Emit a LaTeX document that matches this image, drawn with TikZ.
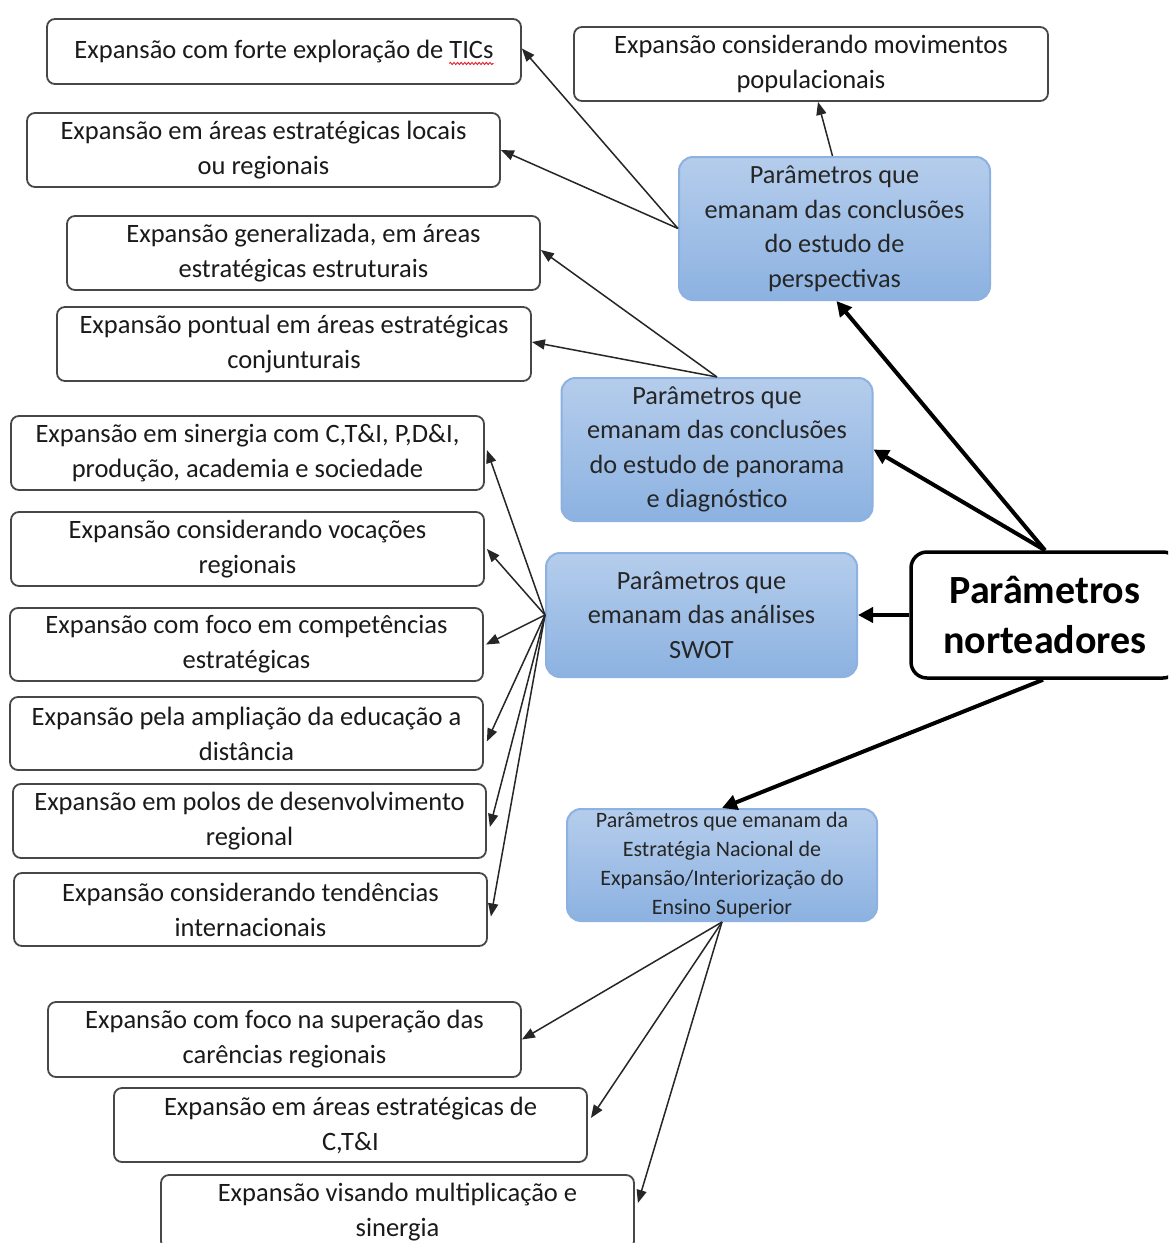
\documentclass[tikz,border=0pt]{standalone}
\usepackage{fontspec}
\setmainfont{Carlito}
\usetikzlibrary{arrows.meta,decorations.pathmorphing}

\definecolor{ink}{HTML}{1A1A1A}
\definecolor{edgegray}{HTML}{474747}
\definecolor{bluetop}{HTML}{B5CDEC}
\definecolor{bluebot}{HTML}{8CB2E1}
\definecolor{blueedge}{HTML}{8DB1E0}
\definecolor{spellred}{HTML}{E0202A}

\tikzset{
  xbox/.style={draw=edgegray, line width=1.8pt, rounded corners=8pt, fill=white,
    minimum width=473pt, minimum height=74pt, inner sep=0pt, align=center,
    text=ink, font=\fontsize{26.5}{35}\selectfont},
  pbox/.style={draw=blueedge, line width=2pt, rounded corners=14pt,
    top color=bluetop, bottom color=bluebot, minimum width=311pt, inner sep=0pt,
    align=center, text=black!85, font=\fontsize{26.3}{34.5}\selectfont},
  rootbox/.style={draw=black, line width=3.5pt, rounded corners=16pt, fill=white,
    minimum width=268pt, minimum height=126pt, inner sep=0pt, align=center,
    font=\fontsize{40}{50}\selectfont\bfseries},
  leaf/.style={draw=black!85, line width=1.5pt, -{Triangle[length=13pt,width=10pt]}},
  trunk/.style={draw=black, line width=4pt, -{Triangle[length=15pt,width=15pt]}},
}

\begin{document}
\begin{tikzpicture}[x=1pt,y=-1pt]
\useasboundingbox (0,0) rectangle (1168,1243);
\clip (0,0) rectangle (1168,1243);
\fill[white] (0,0) rectangle (1168,1243);

% central node
\node[rootbox] (root) at (1045,615) {Parâmetros\\norteadores};

% blue parameter groups
\node[pbox, minimum height=143pt] (pA) at (834.5,228.5)
  {Parâmetros que\\emanam das conclusões\\do estudo de\\perspectivas};
\node[pbox, minimum height=143pt] (pB) at (717,449.5)
  {Parâmetros que\\emanam das conclusões\\do estudo de panorama\\e diagnóstico};
\node[pbox, minimum height=124pt] (pC) at (701.5,615)
  {Parâmetros que\\emanam das análises\\SWOT};
\node[pbox, minimum height=112pt, minimum width=310pt,
  font=\fontsize{22}{28.8}\selectfont] (pD) at (722,865)
  {Parâmetros que emanam da\\Estratégia Nacional de\\Expansão/Interiorização do\\Ensino Superior};

% expansion boxes
\node[xbox, minimum width=474pt, minimum height=65pt] (e1) at (284,51.5) {};
\node[inner sep=0pt, anchor=center, font=\fontsize{26.5}{35}\selectfont, text=ink] (e1t) at (e1.center)
  {Expansão com forte exploração de TICs};
\node[inner sep=0pt, anchor=base east, font=\fontsize{26.5}{35}\selectfont] (tics) at (e1t.base east)
  {\phantom{TICs}};
\draw[spellred, line width=0.9pt, decorate,
  decoration={snake, amplitude=1.1pt, segment length=3.6pt}]
  ([yshift=-5pt]tics.base west) -- ([yshift=-5pt]tics.base east);

\node[xbox, minimum width=474pt] (e2) at (811,64) {Expansão considerando movimentos\\populacionais};
\node[xbox] (e3) at (263.5,150) {Expansão em áreas estratégicas locais\\ou regionais};
\node[xbox] (e4) at (303.5,253) {Expansão generalizada, em áreas\\estratégicas estruturais};
\node[xbox, minimum width=474pt] (e5) at (294,344) {Expansão pontual em áreas estratégicas\\conjunturais};
\node[xbox] (e6) at (247.5,453) {Expansão em sinergia com C,T\&I, P,D\&I,\\produção, academia e sociedade};
\node[xbox] (e7) at (247.5,549) {Expansão considerando vocações\\regionais};
\node[xbox, minimum height=73pt] (e8) at (246.5,644.5) {Expansão com foco em competências\\estratégicas};
\node[xbox, minimum height=73pt] (e9) at (246.5,733.5) {Expansão pela ampliação da educação a\\distância};
\node[xbox] (e10) at (249.5,821) {Expansão em polos de desenvolvimento\\regional};
\node[xbox, minimum height=73pt] (e11) at (250.5,909.5) {Expansão considerando tendências\\internacionais};
\node[xbox, minimum height=75pt] (e12) at (284.5,1039.5) {Expansão com foco na superação das\\carências regionais};
\node[xbox] (e13) at (350.5,1125) {Expansão em áreas estratégicas de\\C,T\&I};
\node[xbox] (e14) at (397.5,1212) {Expansão visando multiplicação e\\sinergia};

% thick links from the central node
\draw[trunk] (root.north) -- ([xshift=2pt]pA.south);
\draw[trunk] (root.north) -- (pB.east);
\draw[trunk] (root.west) -- (pC.east);
\draw[trunk] ([xshift=-2pt]root.south) -- (pD.north);

% links from the perspectives study
\draw[leaf] (pA.west) -- ([yshift=3pt]e1.east);
\draw[leaf] (pA.west) -- (e3.east);
\draw[leaf] ([xshift=-2pt]pA.north) -- ([xshift=7pt]e2.south);

% links from the panorama study
\draw[leaf] (pB.north) -- ([yshift=3pt]e4.east);
\draw[leaf] (pB.north) -- ([yshift=2pt]e5.east);

% links from the SWOT analyses
\draw[leaf] (pC.west) -- ([xshift=2pt,yshift=3pt]e6.east);
\draw[leaf] (pC.west) -- ([xshift=2pt]e7.east);
\draw[leaf] (pC.west) -- ([xshift=2pt]e8.east);
\draw[leaf] (pC.west) -- ([xshift=3pt,yshift=-8pt]e9.east);
\draw[leaf] (pC.west) -- ([xshift=3pt,yshift=-6pt]e10.east);
\draw[leaf] (pC.west) -- ([xshift=3pt,yshift=-7pt]e11.east);

% links from the national strategy
\draw[leaf] (pD.south) -- (e12.east);
\draw[leaf] (pD.south) -- ([xshift=3pt,yshift=7pt]e13.east);
\draw[leaf] (pD.south) -- ([xshift=3pt,yshift=9pt]e14.east);
\end{tikzpicture}
\end{document}
